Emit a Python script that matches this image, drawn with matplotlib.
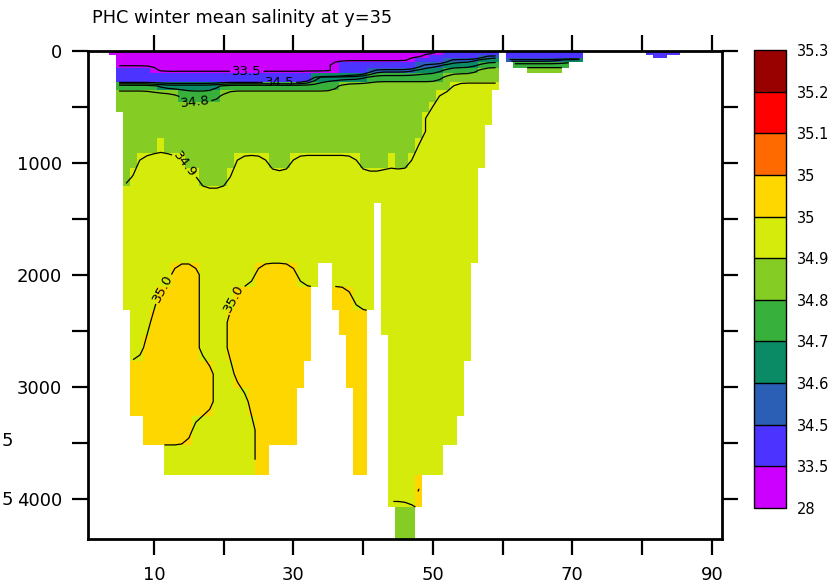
import numpy as np
import matplotlib
matplotlib.use('Agg')
import matplotlib.pyplot as plt
from matplotlib.colors import ListedColormap, BoundaryNorm

# colour bins of the shading
levels = [28, 33.5, 34.5, 34.6, 34.7, 34.8, 34.9, 34.95, 35.0, 35.1, 35.2, 35.3]
level_labels = ['28', '33.5', '34.5', '34.6', '34.7', '34.8', '34.9', '35', '35', '35.1', '35.2', '35.3']
colors = ['#cc00ff', '#4d33ff', '#2b5fb5', '#0b8a66', '#38b03c', '#85cc25',
          '#d4eb0c', '#ffd700', '#ff6a00', '#ff0000', '#990000']

# salinity read for each class of cell
class_value = {'M': 33.4, 'B': 34.15, 'S': 34.55, 'T': 34.65, 'G': 34.75,
               'L': 34.85, 'Y': 34.925, 'O': 34.975}

# depth level edges (m)
depth_edges = [0, 35, 60, 100, 150, 195, 275, 350, 455, 545, 660, 775, 910, 1045,
               1205, 1355, 1510, 1695, 1890, 2105, 2310, 2535, 2765, 3005, 3255,
               3515, 3785, 4070, 4355]

# x = 1..91, each wet column from surface down, "class count" runs
columns = {
    4: 'M1',
    5: 'M4 B2 G1 L2',
    6: 'M4 B2 G1 L7 Y6',
    7: 'M4 B2 G1 L6 Y9 O2',
    8: 'M4 B2 G1 L5 Y10 O2',
    9: 'M4 B2 G1 L5 Y9 O4',
    10: 'M5 B1 G1 L5 Y8 O5',
    11: 'M5 B1 T1 L4 Y8 O6',
    12: 'M5 B1 T1 L5 Y7 O6 Y1',
    13: 'M5 B1 T1 L5 Y6 O7 Y1',
    14: 'M5 B1 T1 G1 L4 Y6 O7 Y1',
    15: 'M5 B1 T1 G1 L5 Y5 O7 Y1',
    16: 'M5 B1 T1 G1 L5 Y5 O6 Y2',
    17: 'M5 B1 T1 G1 L6 Y8 O2 Y2',
    18: 'M5 B1 T1 G1 L6 Y8 O2 Y2',
    19: 'M5 B1 T1 G1 L6 Y12',
    20: 'M5 B1 G1 L7 Y12',
    21: 'M5 B1 G1 L6 Y7 O2 Y4',
    22: 'M5 B1 G1 L5 Y7 O4 Y3',
    23: 'M5 B1 G1 L5 Y7 O4 Y3',
    24: 'M5 B1 G1 L5 Y7 O5 Y2',
    25: 'M5 B1 G1 L5 Y6 O8',
    26: 'M5 B1 G1 L5 Y6 O8',
    27: 'M5 B1 G1 L6 Y5 O7',
    28: 'M5 B1 G1 L6 Y5 O7',
    29: 'M5 B1 G1 L6 Y5 O7',
    30: 'M5 B1 G1 L5 Y6 O7',
    31: 'M5 B1 G1 L5 Y7 O4',
    32: 'M5 B1 G1 L5 Y7 O3',
    33: 'M5 T1 G1 L5 Y7',
    34: 'M5 T1 G1 L5 Y6',
    35: 'M5 T1 G1 L5 Y6',
    36: 'M5 T1 G1 L5 Y7 O1',
    37: 'M3 B2 T1 L6 Y7 O2',
    38: 'M3 B2 T1 L6 Y7 O4',
    39: 'M3 B2 T1 L6 Y8 O6',
    40: 'M3 B2 T1 L7 Y7 O6',
    41: 'M3 B1 S1 G1 L7 Y7',
    42: 'M3 B1 S1 G1 L7 Y2',
    43: 'M3 B1 S1 G1 L7 Y8',
    44: 'M3 B1 S1 G1 L6 Y15',
    45: 'M3 B1 S1 G1 L7 Y14 L1',
    46: 'M3 B1 S1 G1 L7 Y14 L1',
    47: 'M3 B1 S1 G1 L6 Y15 L1',
    48: 'M2 B1 S1 T1 G1 L5 Y15 O1',
    49: 'M2 B1 S1 T1 G1 L3 Y17',
    50: 'M1 B2 S1 T1 G1 L2 Y18',
    51: 'M1 B2 S1 T1 G1 L1 Y19',
    52: 'B2 S1 T1 G1 L2 Y18',
    53: 'B2 S1 T1 G1 L1 Y19',
    54: 'B2 S1 T1 G1 L1 Y18',
    55: 'B2 S1 T1 G1 L1 Y16',
    56: 'B2 S1 T1 G1 L1 Y12',
    57: 'B1 S1 T1 G1 L2 Y7',
    58: 'B1 S1 T1 G1 L2 Y4',
    59: 'B1 S1 T1 G1 L2 Y1',
    61: 'B2 S1',
    62: 'B2 S1 G1',
    63: 'B2 S1 G1',
    64: 'B2 S1 G1 L1',
    65: 'B2 S1 G1 L1',
    66: 'B2 S1 G1 L1',
    67: 'B2 S1 G1 L1',
    68: 'B2 S1 G1 L1',
    69: 'B2 T1 G1',
    70: 'B2 T1',
    71: 'B2 T1',
    81: 'B1',
    82: 'B2',
    83: 'B2',
    84: 'B1',
    85: 'B1',
}

x_points = np.arange(1, 92)
nz = len(depth_edges) - 1
sal = np.full((nz, len(x_points)), np.nan)
for xi, runs in columns.items():
    k = 0
    for run in runs.split():
        for _ in range(int(run[1:])):
            sal[k, xi - 1] = class_value[run[0]]
            k += 1
wet = ~np.isnan(sal)
shade = np.ma.masked_invalid(sal)

# lines are contoured from a lightly smoothed copy (1-2-1 along x, wet cells only)
line_field = np.where(wet, sal, 0.0)
for _ in range(2):
    num = 2 * line_field
    den = 2 * wet.astype(float)
    num[:, 1:] += line_field[:, :-1] * wet[:, :-1]
    den[:, 1:] += wet[:, :-1]
    num[:, :-1] += line_field[:, 1:] * wet[:, 1:]
    den[:, :-1] += wet[:, 1:]
    line_field = np.where(wet, num / np.maximum(den, 1), 0.0)
line_field = np.ma.masked_where(~wet, line_field)

x_edges = np.arange(0.5, 92.0, 1.0)
depth_centers = 0.5 * (np.array(depth_edges[:-1]) + np.array(depth_edges[1:]))

fig = plt.figure(figsize=(8.4, 5.86), dpi=100)
ax = fig.add_axes([87.7 / 840, 1 - 538.7 / 586, (722.3 - 87.7) / 840, (538.7 - 51) / 586])

cmap = ListedColormap(colors)
norm = BoundaryNorm(levels, cmap.N)
mesh = ax.pcolormesh(x_edges, depth_edges, shade, cmap=cmap, norm=norm)

# contour lines, labelled ones drawn on their own so each label sits on its line
# (level, label text, label spot, label angle)
labelled = [(33.5, '33.5', [(23.3, 165)], None),
            (34.5, '34.5', [(28.0, 280)], None),
            (34.8, '34.8', [(15.9, 402)], None),
            (34.9, '34.9', [(14.8, 1000)], -52),
            (34.95, '35.0', [(11.4, 2130), (21.9, 2220)], 62)]
ax.contour(x_points, depth_centers, line_field, levels=[34.6, 34.7], colors='black', linewidths=0.9)
for lev, txt, pos, angle in labelled:
    cs = ax.contour(x_points, depth_centers, line_field, levels=[lev], colors='black', linewidths=0.9)
    texts = ax.clabel(cs, fmt={lev: txt}, manual=pos, fontsize=9.5, inline=True, inline_spacing=2)
    if angle is not None:
        for t in texts:
            t.set_rotation(angle)

ax.set_xlim(0.5, 91.5)
ax.set_ylim(4355, 0)
ax.set_xticks([10, 30, 50, 70, 90])
ax.set_xticks([20, 40, 60, 80], minor=True)
ax.set_yticks([0, 1000, 2000, 3000, 4000])
ax.set_yticks([500, 1500, 2500, 3500], minor=True)
ax.tick_params(which='both', direction='out', length=11.5, width=1.6,
               top=True, right=True, labelsize=13)
ax.tick_params(axis='x', pad=8)
ax.tick_params(axis='y', pad=7)
for sp in ax.spines.values():
    sp.set_linewidth(2)

fig.text(92 / 840, 1 - 23 / 586, 'PHC winter mean salinity at y=35', fontsize=12.8,
         ha='left', va='baseline')
# stray labels at the far left edge
fig.text(2 / 840, 1 - 441 / 586, '5', fontsize=13, ha='left', va='center')
fig.text(2 / 840, 1 - 500 / 586, '5', fontsize=13, ha='left', va='center')

cax = fig.add_axes([754 / 840, 1 - 508 / 586, 32 / 840, 458 / 586])
cb = fig.colorbar(mesh, cax=cax, ticks=levels, spacing='uniform', drawedges=True)
cb.set_ticklabels(level_labels)
cb.ax.tick_params(length=0, labelsize=10.5, pad=8)
cb.outline.set_linewidth(1)
cb.dividers.set_linewidth(1)

fig.savefig('out.png', dpi=100)
